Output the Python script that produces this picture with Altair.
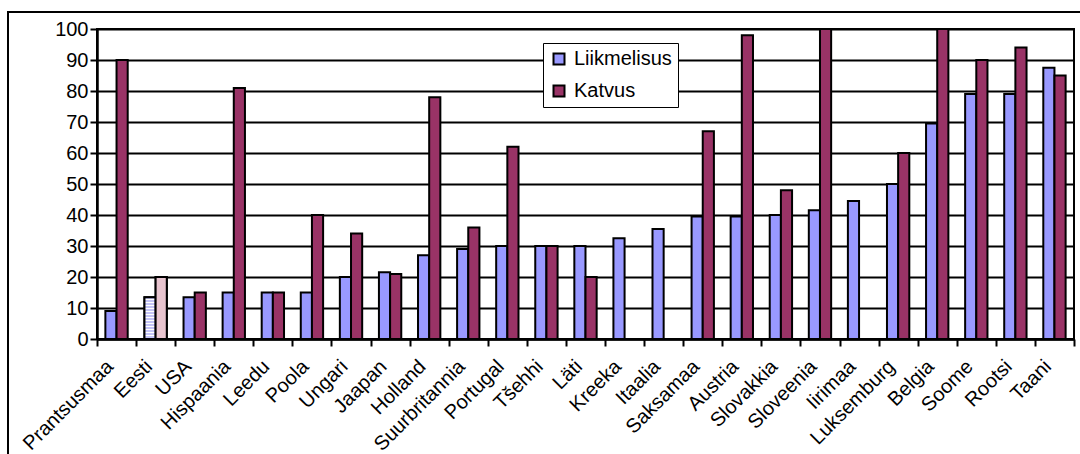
import altair as alt
import pandas as pd

# Countries in display order
countries = ["Prantsusmaa", "Eesti", "USA", "Hispaania", "Leedu", "Poola", "Ungari",
             "Jaapan", "Holland", "Suurbritannia", "Portugal", "Tšehhi", "Läti",
             "Kreeka", "Itaalia", "Saksamaa", "Austria", "Slovakkia", "Sloveenia",
             "Iirimaa", "Luksemburg", "Belgia", "Soome", "Rootsi", "Taani"]

# Union membership (%) and collective agreement coverage (%)
liikmelisus = [9, 13.5, 13.5, 15, 15, 15, 20, 21.5, 27, 29, 30, 30, 30,
               32.5, 35.5, 39.5, 39.5, 40, 41.5, 44.5, 50, 69.5, 79, 79, 87.5]
katvus = [90, 20, 15, 81, 15, 40, 34, 21, 78, 36, 62, 30, 20,
          None, None, 67, 98, 48, 100, None, 60, 100, 90, 94, 85]

series = ["Liikmelisus", "Katvus"]
series_colors = ["#9999FF", "#993366"]
y_ticks = list(range(0, 101, 10))

rows = []
for riik, l, k in zip(countries, liikmelisus, katvus):
    rows.append({"riik": riik, "naitaja": "Liikmelisus", "vaartus": l})
    if k is not None:
        rows.append({"riik": riik, "naitaja": "Katvus", "vaartus": k})
df = pd.DataFrame(rows)

FONT = "Liberation Sans"

x_enc = alt.X(
    "riik:N", sort=countries, title=None,
    scale=alt.Scale(paddingInner=0, paddingOuter=0),
    axis=alt.Axis(labelAngle=-45, labelAlign="right", labelBaseline="top",
                  tickBand="extent", grid=False, labelPadding=10, labelOffset=-14),
)
x_off = alt.XOffset("naitaja:N", sort=series,
                    scale=alt.Scale(paddingInner=0, paddingOuter=0.75))
y_enc = alt.Y("vaartus:Q", title=None,
              scale=alt.Scale(domain=[0, 100], nice=False),
              axis=alt.Axis(values=y_ticks, grid=True, labelPadding=2))

bars = alt.Chart(df).mark_bar(stroke="black", strokeWidth=2).encode(
    x=x_enc, xOffset=x_off, y=y_enc,
    color=alt.Color("naitaja:N", sort=series, title=None,
                    scale=alt.Scale(domain=series, range=series_colors),
                    legend=alt.Legend(orient="none", legendX=446, legendY=14)),
)

# Striped fill for the estimated Estonian figures
stripe_stops = []
n_stripes = 14
for i in range(n_stripes):
    a, b = i / n_stripes, (i + 0.5) / n_stripes
    c = (i + 1) / n_stripes
    stripe_stops += [{"offset": a, "color": "#C4C4F6"}, {"offset": b, "color": "#C4C4F6"},
                     {"offset": b, "color": "#FFFFFF"}, {"offset": c, "color": "#FFFFFF"}]
stripes = {"gradient": "linear", "x1": 0, "y1": 0, "x2": 0, "y2": 1, "stops": stripe_stops}

eesti = alt.Chart(df).transform_filter(alt.datum.riik == "Eesti").mark_bar(
    stroke="black", strokeWidth=2
).encode(
    x=x_enc, xOffset=x_off, y=y_enc,
    fill=alt.condition(alt.datum.naitaja == "Liikmelisus",
                       alt.value(stripes), alt.value("#E8C4CF")),
)

# Outer frame around the whole figure
frame = alt.Chart(alt.Data(values=[{}])).mark_rect(
    fillOpacity=0, stroke="black", strokeWidth=2
).encode(x=alt.value(-89), x2=alt.value(1000), y=alt.value(-17), y2=alt.value(440))

chart = alt.layer(frame, bars, eesti).properties(
    width=977, height=310,
    autosize=alt.AutoSizeParams(type="none"),
    padding={"left": 97, "top": 29, "right": 6, "bottom": 115},
).configure(
    background="white",
    font=FONT,
).configure_view(
    stroke="black", strokeWidth=2,
).configure_axis(
    labelFont=FONT, labelFontSize=20, labelColor="black",
    domainColor="black", domainWidth=2.5,
    tickColor="black", tickWidth=2, tickSize=7,
    gridColor="black", gridWidth=1.8, gridOpacity=1,
).configure_legend(
    strokeColor="black", fillColor="white", padding=6, cornerRadius=0,
    labelFont=FONT, labelFontSize=20, labelColor="black", labelOffset=5,
    symbolType="square", symbolSize=121, symbolStrokeColor="black",
    symbolStrokeWidth=2, symbolOpacity=1, rowPadding=12, labelLimit=300,
)

chart.save("out.html", embed_options={"renderer": "svg", "actions": False})
